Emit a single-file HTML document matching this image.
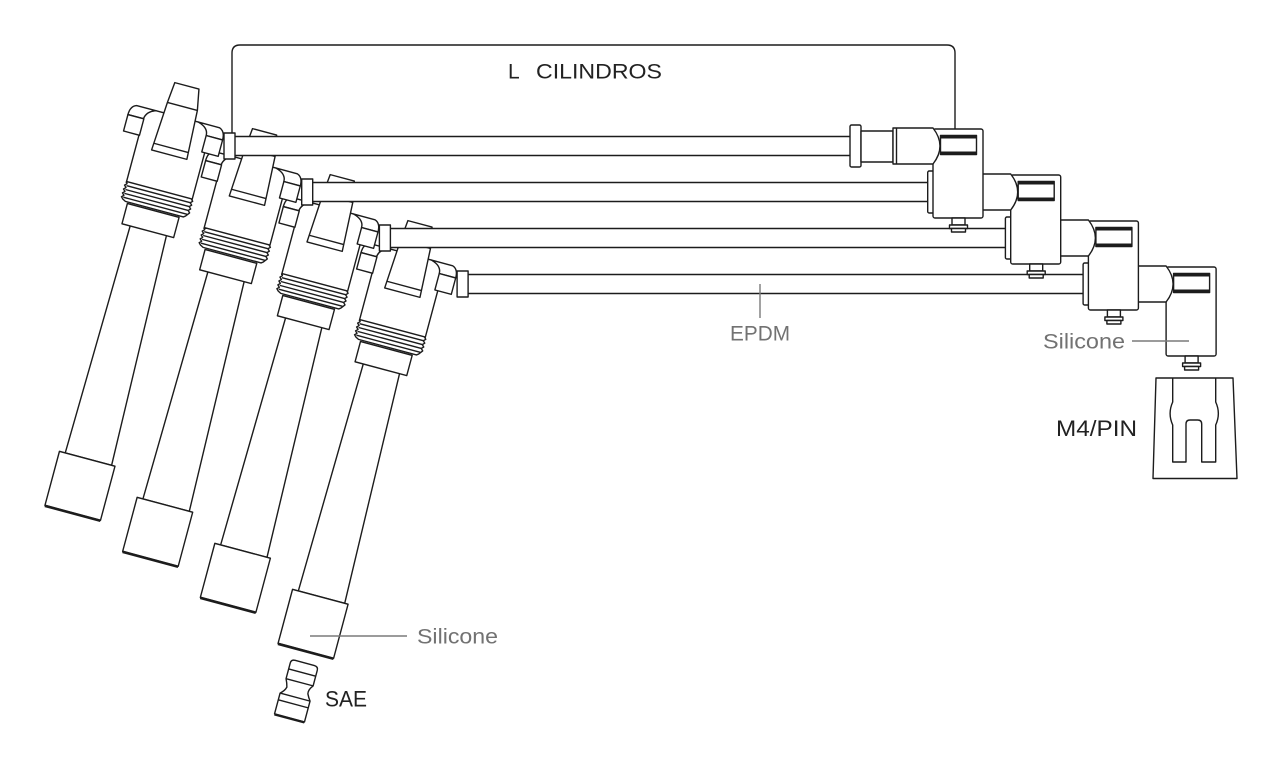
<!DOCTYPE html>
<html><head><meta charset="utf-8">
<style>
html,body{margin:0;padding:0;background:#fff;}
svg{display:block;}
text{font-family:"Liberation Sans",Arial,sans-serif;}
</style></head><body>
<svg width="1280" height="762" viewBox="0 0 1280 762" xmlns="http://www.w3.org/2000/svg">
<rect width="1280" height="762" fill="#fff"/>

<!-- ========== UNIT 3 ========== -->
<g transform="translate(233.1,138)" fill="#fff" stroke="#1c1c1c" stroke-width="1.4" stroke-linejoin="round">
  <g transform="translate(72.7,513.9) rotate(15)">
    <path d="M-19,-294 L-23,-57 L25,-57 L18.5,-294 Z"/>
    <path d="M-29,-57 H28.5 V-1 H-29 Z"/>
    <path d="M-29,-0.6 H28.5" stroke-width="2.6" fill="none"/>
    <path d="M-34,-334 V-400 Q-33,-408 -24,-411 H20 Q31,-408 34,-400 V-334 Z"/>
    <path d="M-27.5,-314 H26 V-293 H-27.5 Z"/>
    <path d="M-34,-335 L33,-335 L35,-333 L33,-331 L35,-329 L33,-327 L35,-325 L33,-323 L35,-321 L32,-317 L30,-315.5 L-30,-315.5 L-33,-317 L-35,-319 L-33,-321 L-35,-323 L-33,-325 L-35,-327 L-33,-329 L-35,-331 L-33,-333 Z"/>
    <path d="M-33,-331 H33 M-33,-327 H33 M-33,-323 H33 M-33,-319 H33" fill="none"/>
    <path d="M-50,-400 Q-50,-409 -44,-411 H-24 Q-33,-408 -34,-400 Z"/>
    <path d="M-50,-400 H-33.5 V-383 H-50 Z"/>
    <path d="M48,-400 Q48,-409 42,-411 H20 Q31,-408 31,-400 Z"/>
    <path d="M31,-400 H48 V-383 H31 Z"/>
    <path d="M-13,-443 H12 L16,-422 L18.5,-372 H-18 L-15,-422 Z"/>
    <path d="M-15,-422 H16 M-17.6,-379 H18.2" fill="none"/>
  </g>
  <rect x="235" y="136.5" width="615" height="19" stroke="none"/>
  <path d="M235,136.5 H850 M235,155.5 H850" fill="none"/>
  <rect x="224" y="133" width="11" height="26"/>
  <rect x="850" y="125" width="11" height="42" rx="1.5"/>
  <rect x="861" y="131" width="32" height="31"/>
  <rect x="933" y="129" width="50" height="89" rx="2"/>
  <path d="M893,128 L933,128 Q947,146 933,164 L893,164 Z"/>
  <path d="M896.5,128 V164" fill="none"/>
  <rect x="940.5" y="135.5" width="36" height="19"/>
  <path d="M940.5,137 H976.5 M940.5,153 H976.5" stroke-width="3" fill="none"/>
  <rect x="952" y="218" width="13" height="7"/>
  <rect x="949.5" y="225" width="18" height="3.5"/>
  <rect x="951.5" y="228.5" width="14" height="3.5"/>
</g>

<!-- ========== UNIT 2 ========== -->
<g transform="translate(155.4,92)" fill="#fff" stroke="#1c1c1c" stroke-width="1.4" stroke-linejoin="round">
  <g transform="translate(72.7,513.9) rotate(15)">
    <path d="M-19,-294 L-23,-57 L25,-57 L18.5,-294 Z"/>
    <path d="M-29,-57 H28.5 V-1 H-29 Z"/>
    <path d="M-29,-0.6 H28.5" stroke-width="2.6" fill="none"/>
    <path d="M-34,-334 V-400 Q-33,-408 -24,-411 H20 Q31,-408 34,-400 V-334 Z"/>
    <path d="M-27.5,-314 H26 V-293 H-27.5 Z"/>
    <path d="M-34,-335 L33,-335 L35,-333 L33,-331 L35,-329 L33,-327 L35,-325 L33,-323 L35,-321 L32,-317 L30,-315.5 L-30,-315.5 L-33,-317 L-35,-319 L-33,-321 L-35,-323 L-33,-325 L-35,-327 L-33,-329 L-35,-331 L-33,-333 Z"/>
    <path d="M-33,-331 H33 M-33,-327 H33 M-33,-323 H33 M-33,-319 H33" fill="none"/>
    <path d="M-50,-400 Q-50,-409 -44,-411 H-24 Q-33,-408 -34,-400 Z"/>
    <path d="M-50,-400 H-33.5 V-383 H-50 Z"/>
    <path d="M48,-400 Q48,-409 42,-411 H20 Q31,-408 31,-400 Z"/>
    <path d="M31,-400 H48 V-383 H31 Z"/>
    <path d="M-13,-443 H12 L16,-422 L18.5,-372 H-18 L-15,-422 Z"/>
    <path d="M-15,-422 H16 M-17.6,-379 H18.2" fill="none"/>
  </g>
  <rect x="235" y="136.5" width="615" height="19" stroke="none"/>
  <path d="M235,136.5 H850 M235,155.5 H850" fill="none"/>
  <rect x="224" y="133" width="11" height="26"/>
  <rect x="850" y="125" width="11" height="42" rx="1.5"/>
  <rect x="861" y="131" width="32" height="31"/>
  <rect x="933" y="129" width="50" height="89" rx="2"/>
  <path d="M893,128 L933,128 Q947,146 933,164 L893,164 Z"/>
  <path d="M896.5,128 V164" fill="none"/>
  <rect x="940.5" y="135.5" width="36" height="19"/>
  <path d="M940.5,137 H976.5 M940.5,153 H976.5" stroke-width="3" fill="none"/>
  <rect x="952" y="218" width="13" height="7"/>
  <rect x="949.5" y="225" width="18" height="3.5"/>
  <rect x="951.5" y="228.5" width="14" height="3.5"/>
</g>

<!-- ========== UNIT 1 ========== -->
<g transform="translate(77.7,46)" fill="#fff" stroke="#1c1c1c" stroke-width="1.4" stroke-linejoin="round">
  <g transform="translate(72.7,513.9) rotate(15)">
    <path d="M-19,-294 L-23,-57 L25,-57 L18.5,-294 Z"/>
    <path d="M-29,-57 H28.5 V-1 H-29 Z"/>
    <path d="M-29,-0.6 H28.5" stroke-width="2.6" fill="none"/>
    <path d="M-34,-334 V-400 Q-33,-408 -24,-411 H20 Q31,-408 34,-400 V-334 Z"/>
    <path d="M-27.5,-314 H26 V-293 H-27.5 Z"/>
    <path d="M-34,-335 L33,-335 L35,-333 L33,-331 L35,-329 L33,-327 L35,-325 L33,-323 L35,-321 L32,-317 L30,-315.5 L-30,-315.5 L-33,-317 L-35,-319 L-33,-321 L-35,-323 L-33,-325 L-35,-327 L-33,-329 L-35,-331 L-33,-333 Z"/>
    <path d="M-33,-331 H33 M-33,-327 H33 M-33,-323 H33 M-33,-319 H33" fill="none"/>
    <path d="M-50,-400 Q-50,-409 -44,-411 H-24 Q-33,-408 -34,-400 Z"/>
    <path d="M-50,-400 H-33.5 V-383 H-50 Z"/>
    <path d="M48,-400 Q48,-409 42,-411 H20 Q31,-408 31,-400 Z"/>
    <path d="M31,-400 H48 V-383 H31 Z"/>
    <path d="M-13,-443 H12 L16,-422 L18.5,-372 H-18 L-15,-422 Z"/>
    <path d="M-15,-422 H16 M-17.6,-379 H18.2" fill="none"/>
  </g>
  <rect x="235" y="136.5" width="615" height="19" stroke="none"/>
  <path d="M235,136.5 H850 M235,155.5 H850" fill="none"/>
  <rect x="224" y="133" width="11" height="26"/>
  <rect x="850" y="125" width="11" height="42" rx="1.5"/>
  <rect x="861" y="131" width="32" height="31"/>
  <rect x="933" y="129" width="50" height="89" rx="2"/>
  <path d="M893,128 L933,128 Q947,146 933,164 L893,164 Z"/>
  <path d="M896.5,128 V164" fill="none"/>
  <rect x="940.5" y="135.5" width="36" height="19"/>
  <path d="M940.5,137 H976.5 M940.5,153 H976.5" stroke-width="3" fill="none"/>
  <rect x="952" y="218" width="13" height="7"/>
  <rect x="949.5" y="225" width="18" height="3.5"/>
  <rect x="951.5" y="228.5" width="14" height="3.5"/>
</g>

<!-- ========== UNIT 0 ========== -->
<g fill="#fff" stroke="#1c1c1c" stroke-width="1.4" stroke-linejoin="round">
  <g transform="translate(72.7,513.9) rotate(15)">
    <path d="M-19,-294 L-23,-57 L25,-57 L18.5,-294 Z"/>
    <path d="M-29,-57 H28.5 V-1 H-29 Z"/>
    <path d="M-29,-0.6 H28.5" stroke-width="2.6" fill="none"/>
    <path d="M-34,-334 V-400 Q-33,-408 -24,-411 H20 Q31,-408 34,-400 V-334 Z"/>
    <path d="M-27.5,-314 H26 V-293 H-27.5 Z"/>
    <path d="M-34,-335 L33,-335 L35,-333 L33,-331 L35,-329 L33,-327 L35,-325 L33,-323 L35,-321 L32,-317 L30,-315.5 L-30,-315.5 L-33,-317 L-35,-319 L-33,-321 L-35,-323 L-33,-325 L-35,-327 L-33,-329 L-35,-331 L-33,-333 Z"/>
    <path d="M-33,-331 H33 M-33,-327 H33 M-33,-323 H33 M-33,-319 H33" fill="none"/>
    <path d="M-50,-400 Q-50,-409 -44,-411 H-24 Q-33,-408 -34,-400 Z"/>
    <path d="M-50,-400 H-33.5 V-383 H-50 Z"/>
    <path d="M48,-400 Q48,-409 42,-411 H20 Q31,-408 31,-400 Z"/>
    <path d="M31,-400 H48 V-383 H31 Z"/>
    <path d="M-13,-443 H12 L16,-422 L18.5,-372 H-18 L-15,-422 Z"/>
    <path d="M-15,-422 H16 M-17.6,-379 H18.2" fill="none"/>
  </g>
  <rect x="235" y="136.5" width="615" height="19" stroke="none"/>
  <path d="M235,136.5 H850 M235,155.5 H850" fill="none"/>
  <rect x="224" y="133" width="11" height="26"/>
  <rect x="850" y="125" width="11" height="42" rx="1.5"/>
  <rect x="861" y="131" width="32" height="31"/>
  <rect x="933" y="129" width="50" height="89" rx="2"/>
  <path d="M893,128 L933,128 Q947,146 933,164 L893,164 Z"/>
  <path d="M896.5,128 V164" fill="none"/>
  <rect x="940.5" y="135.5" width="36" height="19"/>
  <path d="M940.5,137 H976.5 M940.5,153 H976.5" stroke-width="3" fill="none"/>
  <rect x="952" y="218" width="13" height="7"/>
  <rect x="949.5" y="225" width="18" height="3.5"/>
  <rect x="951.5" y="228.5" width="14" height="3.5"/>
  <!-- bracket -->
  <path d="M232,133 V53 Q232,45 240,45 H947 Q955,45 955,53 V129" fill="none"/>
</g>

<!-- SAE connector -->
<g transform="translate(290,718) rotate(15)" fill="#fff" stroke="#1c1c1c" stroke-width="1.4" stroke-linejoin="round">
  <path d="M-14,-53 Q-14,-57 -10,-57 L10,-57 Q14,-57 14,-53 L14,-37 Q10,-32 11,-28 Q13,-24 15,-21.5 L15,0 L-16,0 L-16,-21.5 Q-12,-25 -11,-29 Q-12,-33 -14,-37 Z"/>
  <path d="M-14,-47 H14 M-14,-37 H14 M-16,-21.5 H15 M-16,-14.5 H15" fill="none"/>
  <path d="M-16,0.6 H15" stroke-width="2.2" fill="none"/>
</g>

<!-- M4/PIN connector -->
<g fill="#fff" stroke="#1c1c1c" stroke-width="1.4" stroke-linejoin="round">
  <path d="M1156,378 L1233,378 L1237,478.5 L1153,478.5 Z"/>
  <path d="M1172.7,378 L1172.7,402 Q1167.5,413.5 1172.7,425 L1172.7,462 L1186,462 L1186,424 Q1186,420 1190,420 L1197.7,420 Q1201.7,420 1201.7,424 L1201.7,462 L1215.7,462 L1215.7,425 Q1221,413.5 1215.7,402 L1215.7,378" fill="none"/>
</g>

<!-- label leader lines -->
<g stroke="#7a7a7a" stroke-width="1.4" fill="none">
  <path d="M760,284 V318"/>
  <path d="M1132,341 H1189"/>
  <path d="M310,636 H407"/>
</g>

<!-- text -->
<text x="508" y="78.5" font-size="21" fill="#222">L</text>
<text x="536" y="78.5" font-size="21" fill="#222" textLength="126" lengthAdjust="spacingAndGlyphs">CILINDROS</text>
<text x="730" y="340.5" font-size="21" fill="#727272" textLength="60" lengthAdjust="spacingAndGlyphs">EPDM</text>
<text x="1043" y="348.5" font-size="21" fill="#727272" textLength="82" lengthAdjust="spacingAndGlyphs">Silicone</text>
<text x="417" y="643.5" font-size="21" fill="#727272" textLength="81" lengthAdjust="spacingAndGlyphs">Silicone</text>
<text x="1056" y="436" font-size="22" fill="#222" textLength="81" lengthAdjust="spacingAndGlyphs">M4/PIN</text>
<text x="325" y="706.5" font-size="22" fill="#222" textLength="42" lengthAdjust="spacingAndGlyphs">SAE</text>
</svg>
</body></html>
